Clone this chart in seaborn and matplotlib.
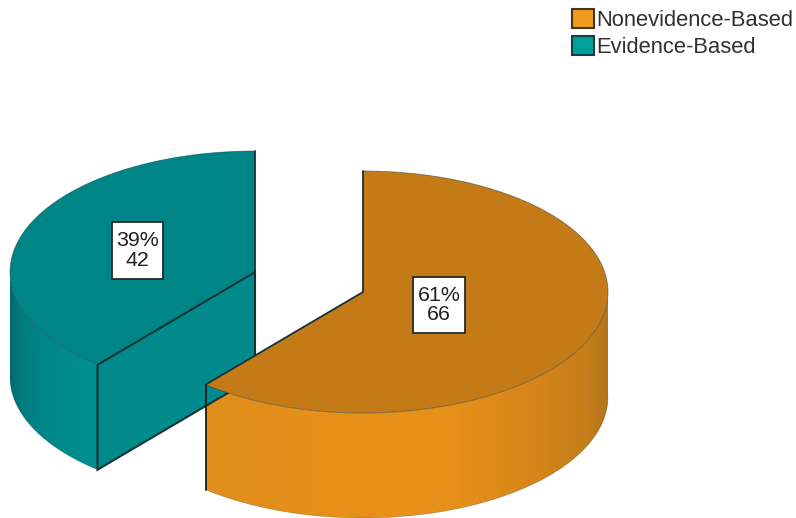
import numpy as np
import matplotlib
matplotlib.use("Agg")
import matplotlib.pyplot as plt
from matplotlib.patches import Patch, Polygon, Rectangle
from matplotlib.colors import LinearSegmentedColormap
import seaborn as sns

# Survey counts per practice category
categories = ["Nonevidence-Based", "Evidence-Based"]
counts = [66, 42]
percent_labels = ["61%", "39%"]

sns.set_theme(style="white")
plt.rcParams["font.family"] = ["Liberation Sans", "DejaVu Sans"]

RX, RY, DEPTH = 245, 121, 105
EDGE = "#123438"


def arc(cx, cy, a0, a1, n=200, drop=0):
    t = np.radians(np.linspace(a0, a1, n))
    return cx + RX * np.cos(t), cy - RY * np.sin(t) + drop


def draw_side(ax, cx, cy, a0, a1, cmap):
    # Rim of the slice: a horizontal gradient clipped to the curved band
    xt, yt = arc(cx, cy, a0, a1)
    xb, yb = arc(cx, cy, a1, a0, drop=DEPTH)
    band = Polygon(np.c_[np.r_[xt, xb], np.r_[yt, yb]], closed=True,
                   fc="none", ec="none", transform=ax.transData)
    ax.add_patch(band)
    left, right = xt.min(), xt.max()
    gradient = np.linspace(0, 1, 256)[None, :]
    img = ax.imshow(gradient, cmap=cmap, aspect="auto", zorder=2,
                    extent=(left, right, yb.max(), yt.min()), interpolation="bilinear")
    img.set_clip_path(band)
    ax.set_xlim(0, 796)
    ax.set_ylim(518, 0)
    rim_x, rim_y = arc(cx, cy, a0, a1, drop=DEPTH)
    ax.plot(rim_x, rim_y, color=EDGE, lw=0.4, alpha=0.35, zorder=3)


def draw_top(ax, cx, cy, a0, a1, color, rim_alpha=0.5):
    xa, ya = arc(cx, cy, a0, a1)
    ax.fill(np.r_[cx, xa], np.r_[cy, ya], fc=color, ec="none", zorder=4)
    ax.plot(xa, ya, color=EDGE, lw=0.6, alpha=rim_alpha, zorder=5)
    ax.plot([xa[0], cx, xa[-1]], [ya[0], cy, ya[-1]], color=EDGE, lw=1.3, zorder=5)


fig = plt.figure(figsize=(7.96, 5.18), dpi=100, facecolor="white")
ax = fig.add_axes([0, 0, 1, 1])
ax.set_xlim(0, 796)
ax.set_ylim(518, 0)
ax.axis("off")

shares = np.array(counts) / sum(counts)
sweep = shares * 360

orange_rim = LinearSegmentedColormap.from_list(
    "orange_rim", [(0, "#E08D1C"), (0.25, "#E6901B"), (0.6, "#E8911A"),
                   (0.8, "#D88619"), (0.95, "#C47D1A"), (1, "#B5741A")])
teal_rim = LinearSegmentedColormap.from_list(
    "teal_rim", [(0, "#006A6E"), (0.12, "#007C7E"), (0.4, "#008688"),
                 (0.8, "#008E8E"), (1, "#009090")])

# Evidence-Based slice, pulled out to the upper left
tx, ty = 255, 272
teal_end = 90 + sweep[1]
ex, ey = arc(tx, ty, teal_end, teal_end, 1)
draw_side(ax, tx, ty, 180, teal_end, teal_rim)
ax.fill([tx, ex[0], ex[0], tx], [ty, ey[0], ey[0] + DEPTH, ty + DEPTH],
        fc="#008A8C", ec=EDGE, lw=1.5, zorder=3)
draw_top(ax, tx, ty, 90, teal_end, "#008587")

# Nonevidence-Based slice
ox, oy = 363, 292
orange_end = 90 - sweep[0]
draw_side(ax, ox, oy, orange_end, 0, orange_rim)
lx, ly = arc(ox, oy, orange_end, orange_end, 1)
ax.plot([lx[0], lx[0]], [ly[0], ly[0] + DEPTH], color="#1A1A14", lw=1.3, zorder=6)
draw_top(ax, ox, oy, orange_end, 90, "#C47A16")

# Percentage and count labels on white boxes
boxes = [(413, 277, 52, 56), (112, 222, 51, 57)]
for (bx, by, bw, bh), pct, n in zip(boxes, percent_labels, counts):
    ax.add_patch(Rectangle((bx, by), bw, bh, fc="white", ec="#22282A", lw=1.3, zorder=8))
    ax.text(bx + bw / 2, by + bh / 2, f"{pct}\n{n}", ha="center", va="center",
            fontsize=15.4, color="#202020", linespacing=1.05, zorder=9)

handles = [
    Patch(fc="#F09A1E", ec="#4A3418", lw=1.5, label=categories[0]),
    Patch(fc="#00A09A", ec="#134048", lw=1.5, label=categories[1]),
]
ax.legend(handles=handles, loc="upper left", bbox_to_anchor=(572 / 796, 1 - 9 / 518),
          bbox_transform=fig.transFigure, frameon=False, fontsize=15.8,
          handlelength=1.0, handleheight=0.95, handletextpad=0.12, labelspacing=0.23,
          borderpad=0, borderaxespad=0, labelcolor="#303030")

fig.savefig("out.png", dpi=100, facecolor="white")
